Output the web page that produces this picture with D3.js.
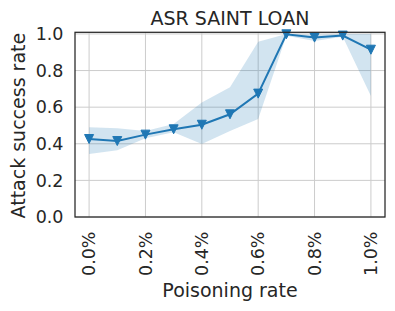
<!DOCTYPE html>
<html>
<head>
<meta charset="utf-8">
<script src="https://cdn.jsdelivr.net/npm/d3@7"></script>
<style>
  body { margin: 0; background: #fff; }
  text { font-family: "DejaVu Sans", sans-serif; fill: #262626; }
</style>
</head>
<body>
<svg id="chart"></svg>
<script>
const width = 395, height = 311;

// poisoning rate (%) and attack success rate
const rates = [0.0, 0.1, 0.2, 0.3, 0.4, 0.5, 0.6, 0.7, 0.8, 0.9, 1.0];
const asrMean = [0.426, 0.415, 0.45, 0.479, 0.504, 0.561, 0.674, 0.998, 0.98, 0.991, 0.914];
const asrLow = [0.344, 0.364, 0.43, 0.463, 0.399, 0.47, 0.536, 0.99, 0.962, 0.985, 0.661];
const asrHigh = [0.49, 0.485, 0.47, 0.508, 0.625, 0.709, 0.958, 1.0, 0.995, 1.0, 1.0];
const xTicks = [0.0, 0.2, 0.4, 0.6, 0.8, 1.0];
const yTicks = [0.0, 0.2, 0.4, 0.6, 0.8, 1.0];

const mLeft = 75, mRight = 385, mTop = 32.3, mBottom = 217;
const blue = "#1f77b4";

const svg = d3.select("#chart").attr("width", width).attr("height", height);

const x = d3.scaleLinear().domain([-0.05, 1.05]).range([mLeft, mRight]);
const y = d3.scaleLinear().domain([0, 1.009]).range([mBottom, mTop]);

// grid
svg.append("g").selectAll("line")
    .data(xTicks).enter().append("line")
    .attr("x1", d => x(d)).attr("x2", d => x(d))
    .attr("y1", mTop).attr("y2", mBottom)
    .attr("stroke", "#cccccc").attr("stroke-width", 1);
svg.append("g").selectAll("line")
    .data(yTicks).enter().append("line")
    .attr("x1", mLeft).attr("x2", mRight)
    .attr("y1", d => y(d)).attr("y2", d => y(d))
    .attr("stroke", "#cccccc").attr("stroke-width", 1);

// band
const band = d3.area()
    .x((d, i) => x(rates[i]))
    .y0((d, i) => y(asrLow[i]))
    .y1((d, i) => y(asrHigh[i]));
svg.append("path")
    .attr("d", band(rates))
    .attr("fill", blue).attr("fill-opacity", 0.2);

// line
const line = d3.line().x((d, i) => x(rates[i])).y(d => y(d));
svg.append("path")
    .attr("d", line(asrMean))
    .attr("fill", "none").attr("stroke", blue).attr("stroke-width", 2);

// triangle-down markers
const s = 4.5;
svg.append("g").selectAll("path")
    .data(asrMean).enter().append("path")
    .attr("transform", (d, i) => `translate(${x(rates[i])},${y(d)})`)
    .attr("d", `M${-s},${-s}L${s},${-s}L0,${s}Z`)
    .attr("fill", blue).attr("stroke", blue).attr("stroke-width", 1);

// frame
svg.append("rect")
    .attr("x", mLeft).attr("y", mTop)
    .attr("width", mRight - mLeft).attr("height", mBottom - mTop)
    .attr("fill", "none").attr("stroke", "#262626").attr("stroke-width", 1.25);

// tick labels
svg.append("g").selectAll("text")
    .data(yTicks).enter().append("text")
    .attr("x", mLeft - 11.5).attr("y", d => y(d))
    .attr("dy", "0.36em")
    .attr("text-anchor", "end")
    .attr("font-size", "17.5px")
    .text(d => d.toFixed(1));

svg.append("g").selectAll("text")
    .data(xTicks).enter().append("text")
    .attr("transform", d => `translate(${x(d)},${mBottom + 14.5}) rotate(-90)`)
    .attr("dy", "0.36em")
    .attr("text-anchor", "end")
    .attr("font-size", "17.5px")
    .text(d => d.toFixed(1) + "%");

// labels and title
svg.append("text")
    .attr("x", (mLeft + mRight) / 2).attr("y", 297)
    .attr("text-anchor", "middle")
    .attr("font-size", "19px")
    .text("Poisoning rate");

svg.append("text")
    .attr("transform", `translate(25,${(mTop + mBottom) / 2 + 1}) rotate(-90)`)
    .attr("text-anchor", "middle")
    .attr("font-size", "19px")
    .text("Attack success rate");

svg.append("text")
    .attr("x", (mLeft + mRight) / 2).attr("y", 25)
    .attr("text-anchor", "middle")
    .attr("font-size", "19px")
    .text("ASR SAINT LOAN");
</script>
</body>
</html>
